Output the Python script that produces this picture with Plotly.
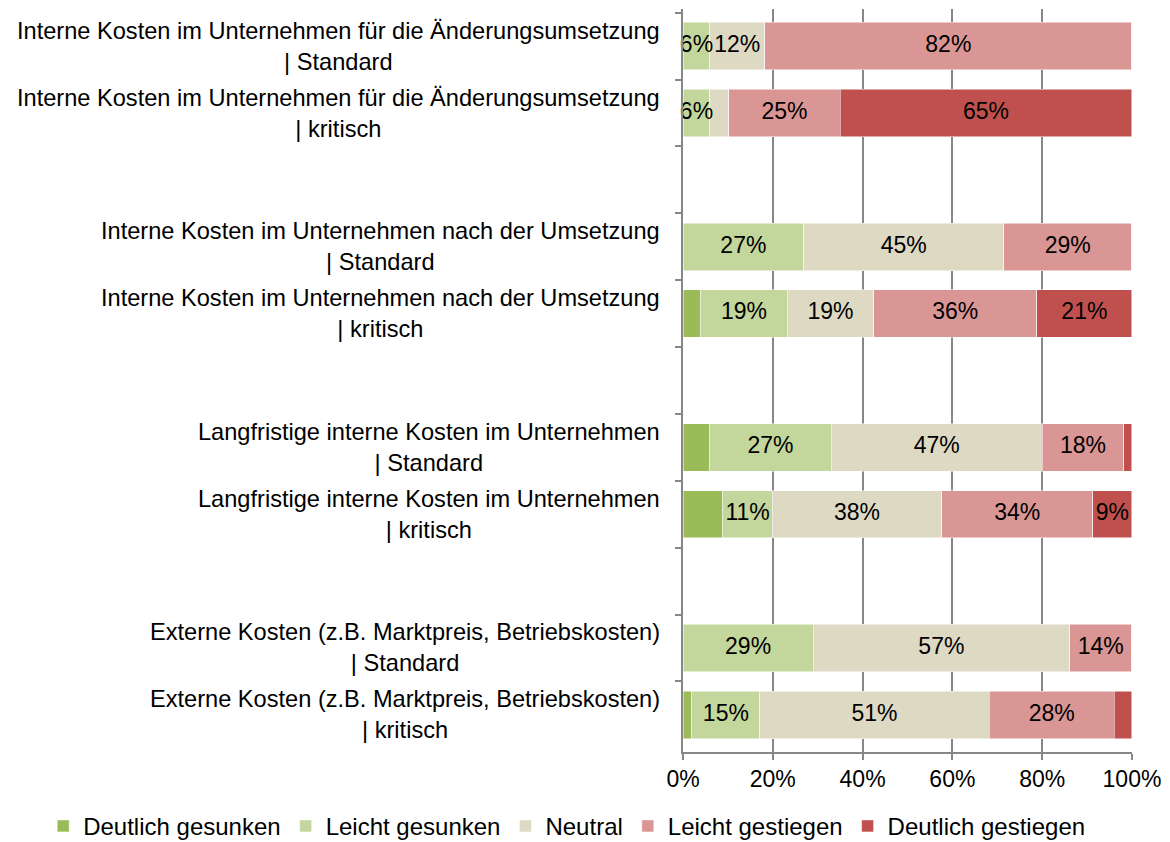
import plotly.graph_objects as go

# categories, top to bottom; blank entries are the gaps between groups
categories = [
    "Interne Kosten im Unternehmen für die Änderungsumsetzung<br>| Standard",
    "Interne Kosten im Unternehmen für die Änderungsumsetzung<br>| kritisch",
    " ",
    "Interne Kosten im Unternehmen nach der Umsetzung<br>| Standard",
    "Interne Kosten im Unternehmen nach der Umsetzung<br>| kritisch",
    "  ",
    "Langfristige interne Kosten im Unternehmen<br>| Standard",
    "Langfristige interne Kosten im Unternehmen<br>| kritisch",
    "   ",
    "Externe Kosten (z.B. Marktpreis, Betriebskosten)<br>| Standard",
    "Externe Kosten (z.B. Marktpreis, Betriebskosten)<br>| kritisch",
]

series_names = ["Deutlich gesunken", "Leicht gesunken", "Neutral",
                "Leicht gestiegen", "Deutlich gestiegen"]
colors = ["#9BBB59", "#C3D69B", "#DDD9C3", "#D99694", "#C0504D"]

# shares in percent (None for the gap rows)
deutlich_gesunken = [0, 0, None, 0, 4.0, None, 6.0, 8.9, None, 0, 2.0]
leicht_gesunken = [6.0, 6.0, None, 26.9, 19.2, None, 27.0, 11.0, None, 29.0, 15.1]
neutral = [12.2, 4.2, None, 44.5, 19.3, None, 47.0, 37.7, None, 57.1, 51.1]
leicht_gestiegen = [81.8, 24.8, None, 28.6, 36.3, None, 18.2, 33.7, None, 13.9, 27.9]
deutlich_gestiegen = [0, 65.0, None, 0, 21.2, None, 1.8, 8.7, None, 0, 3.9]

# labels shown on the bars (empty where the original shows none)
labels_dg = ["", "", "", "", "", "", "", "", "", "", ""]
labels_lg = ["6%", "6%", "", "27%", "19%", "", "27%", "11%", "", "29%", "15%"]
labels_n = ["12%", "", "", "45%", "19%", "", "47%", "38%", "", "57%", "51%"]
labels_lst = ["82%", "25%", "", "29%", "36%", "", "18%", "34%", "", "14%", "28%"]
labels_dst = ["", "65%", "", "", "21%", "", "", "9%", "", "", ""]

values = [deutlich_gesunken, leicht_gesunken, neutral, leicht_gestiegen, deutlich_gestiegen]
labels = [labels_dg, labels_lg, labels_n, labels_lst, labels_dst]

FONT = "Liberation Sans, Arial, sans-serif"
FS = 23
GREY = "#878787"

fig = go.Figure()
for name, color, vals in zip(series_names, colors, values):
    fig.add_trace(go.Bar(
        y=categories, x=vals, name=name, orientation="h",
        marker=dict(color=color, line=dict(color="white", width=0.5)),
        hoverinfo="x+name",
    ))

# segment labels on top of all bars, placed at the middle of each stacked segment
lab_x, lab_y, lab_t = [], [], []
for i, cat in enumerate(categories):
    start = 0
    for vals, txt in zip(values, labels):
        v = vals[i]
        if v is None:
            continue
        if txt[i]:
            lab_x.append(start + v / 2)
            lab_y.append(cat)
            lab_t.append(txt[i])
        start += v
fig.add_trace(go.Scatter(
    x=lab_x, y=lab_y, text=lab_t, mode="text", showlegend=False,
    textfont=dict(size=FS, color="black", family=FONT),
    cliponaxis=False, hoverinfo="skip",
))

# category labels, centred lines, right edge next to the axis
for cat in categories:
    if cat.strip():
        fig.add_annotation(
            x=0, xref="paper", y=cat, yref="y", text=cat,
            xanchor="right", xshift=-21, align="center", showarrow=False,
            font=dict(size=23.6, color="black", family=FONT))

# page body adds an 8px offset, so the figure is sized to the remaining area
fig.update_layout(
    barmode="stack", bargap=0.29,
    width=1162, height=842,
    margin=dict(l=675, r=38, t=1, b=96),
    plot_bgcolor="white", paper_bgcolor="white",
    font=dict(family=FONT, size=FS, color="black"),
    legend=dict(orientation="h", x=-1.425, xanchor="left", y=-0.1, yanchor="middle",
                font=dict(size=24), traceorder="normal", itemwidth=30),
)
fig.update_xaxes(range=[0, 100.01], tick0=0, dtick=20, ticksuffix="%",
                 showgrid=True, gridcolor=GREY, gridwidth=1.5,
                 showline=True, linecolor=GREY, linewidth=1.5,
                 ticks="outside", ticklen=6, tickcolor=GREY, tickwidth=1.5,
                 zeroline=False, tickfont=dict(size=FS))
fig.update_yaxes(autorange="reversed", showticklabels=False,
                 showline=True, linecolor=GREY, linewidth=1.5,
                 ticks="outside", tickson="boundaries", ticklen=6,
                 tickcolor=GREY, tickwidth=1.5, showgrid=False)

fig.write_html("out.html")
